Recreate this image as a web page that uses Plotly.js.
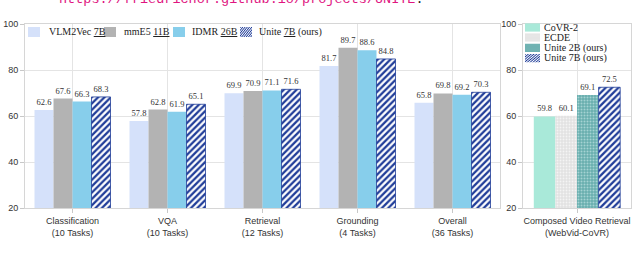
<!DOCTYPE html>
<html>
<head>
<meta charset="utf-8">
<script src="https://cdn.plot.ly/plotly-3.0.1.min.js"></script>
<style>html,body{margin:0;padding:0;background:#fff;}#chart{width:640px;height:254px;}</style>
</head>
<body>
<div id="chart"></div>
<script>
// ---- data ----
const categories = ['Classification<br>(10 Tasks)', 'VQA<br>(10 Tasks)', 'Retrieval<br>(12 Tasks)', 'Grounding<br>(4 Tasks)', 'Overall<br>(36 Tasks)'];
const vlm2vec = [62.6, 57.8, 69.9, 81.7, 65.8];
const mme5 = [67.6, 62.8, 70.9, 89.7, 69.8];
const idmr = [66.3, 61.9, 71.1, 88.6, 69.2];
const unite7b = [68.3, 65.1, 71.6, 84.8, 70.3];

const cvrCategory = ['Composed Video Retrieval<br>(WebVid-CoVR)'];
const covr2 = [59.8];
const ecde = [60.1];
const unite2bCvr = [69.1];
const unite7bCvr = [72.5];

const leftNames = ['VLM2Vec <u>7B</u>', 'mmE5 <u>11B</u>', 'IDMR <u>26B</u>', 'Unite <u>7B</u> (ours)'];
const rightNames = ['CoVR-2', 'ECDE', 'Unite 2B (ours)', 'Unite 7B (ours)'];
const yTicks = [20, 40, 60, 80, 100];

// ---- style ----
const NAVY = '#1f3c98';
const serif = 'Liberation Serif, Times New Roman, serif';
const sans = 'Liberation Sans, Arial, sans-serif';
const W = 640, H = 254, ML = 25, MR = 9, MT = 24, MB = 46;
const PW = W - ML - MR, PH = H - MT - MB;
const px = X => (X - ML) / PW;
const py = Y => (H - MB - Y) / PH;

const labelFont = {family: serif, size: 8.5, color: '#333'};

function barTrace(name, x, y, marker, xa, ya) {
  return {
    type: 'bar', name: name, x: x, y: y, xaxis: xa, yaxis: ya,
    marker: marker, text: y.map(v => v.toFixed(1)), textposition: 'outside',
    textfont: labelFont, cliponaxis: false, showlegend: false, hoverinfo: 'x+y'
  };
}
const hatch = {color: 'white', line: {color: NAVY, width: 0.8},
  pattern: {shape: '/', fgcolor: NAVY, bgcolor: 'white', size: 4.5, solidity: 0.5}};

const data = [
  barTrace(leftNames[0], categories, vlm2vec, {color: '#d5e1fa'}, 'x', 'y'),
  barTrace(leftNames[1], categories, mme5, {color: '#b3b3b3'}, 'x', 'y'),
  barTrace(leftNames[2], categories, idmr, {color: '#87ceeb'}, 'x', 'y'),
  barTrace(leftNames[3], categories, unite7b, hatch, 'x', 'y'),
  barTrace(rightNames[0], cvrCategory, covr2, {color: '#a9e9d9'}, 'x2', 'y2'),
  barTrace(rightNames[1], cvrCategory, ecde, {color: '#e4e4e4',
    pattern: {shape: '.', fgcolor: '#f4f4f4', bgcolor: '#e2e2e2', size: 3, solidity: 0.3}}, 'x2', 'y2'),
  barTrace(rightNames[2], cvrCategory, unite2bCvr, {color: '#6fb3b3',
    pattern: {shape: '.', fgcolor: '#a5d3d3', bgcolor: '#68aeae', size: 3, solidity: 0.35}}, 'x2', 'y2'),
  barTrace(rightNames[3], cvrCategory, unite7bCvr, hatch, 'x2', 'y2')
];

// ---- custom legends (swatch images + text) ----
function swatchURI(bg, kind, fg) {
  let defs = '', fill = bg;
  if (kind === 'hatch') {
    defs = '<defs><pattern id="p" width="4" height="4" patternUnits="userSpaceOnUse" patternTransform="rotate(45)"><rect width="4" height="4" fill="' + bg + '"/><rect width="2" height="4" fill="' + fg + '"/></pattern></defs>';
    fill = 'url(#p)';
  } else if (kind === 'dot') {
    defs = '<defs><pattern id="p" width="3" height="3" patternUnits="userSpaceOnUse"><rect width="3" height="3" fill="' + bg + '"/><circle cx="1.5" cy="1.5" r="0.7" fill="' + fg + '"/></pattern></defs>';
    fill = 'url(#p)';
  }
  const svg = '<svg xmlns="http://www.w3.org/2000/svg" width="30" height="20" viewBox="0 0 30 20">' + defs +
    '<rect x="0" y="0" width="30" height="20" fill="' + fill + '"/></svg>';
  return 'data:image/svg+xml;charset=utf-8,' + encodeURIComponent(svg);
}
const leftSw = [swatchURI('#d5e1fa'), swatchURI('#b3b3b3'), swatchURI('#87ceeb'), swatchURI('#ffffff', 'hatch', NAVY)];
const rightSw = [swatchURI('#a9e9d9'), swatchURI('#e4e4e4', 'dot', '#f4f4f4'), swatchURI('#68aeae', 'dot', '#a5d3d3'), swatchURI('#ffffff', 'hatch', NAVY)];

const leftSwX = [28, 104, 173, 240], leftTxtX = [48, 123, 191, 258];
const rightY = [27.5, 37.5, 47.8, 58.2];

const images = [], annotations = [];
leftSw.forEach((s, i) => images.push({source: s, xref: 'paper', yref: 'paper', x: px(leftSwX[i]), y: py(27),
  sizex: 12 / PW, sizey: 10 / PH, sizing: 'stretch', xanchor: 'left', yanchor: 'top', layer: 'above'}));
leftNames.forEach((t, i) => annotations.push({text: t, xref: 'paper', yref: 'paper', x: px(leftTxtX[i]), y: py(32),
  xanchor: 'left', yanchor: 'middle', align: 'left', showarrow: false, font: {family: serif, size: 10, color: '#222'}, borderpad: 0}));
rightSw.forEach((s, i) => images.push({source: s, xref: 'paper', yref: 'paper', x: px(525), y: py(rightY[i] - 4.3),
  sizex: 15 / PW, sizey: 8.6 / PH, sizing: 'stretch', xanchor: 'left', yanchor: 'top', layer: 'above'}));
rightNames.forEach((t, i) => annotations.push({text: t, xref: 'paper', yref: 'paper', x: px(543), y: py(rightY[i]),
  xanchor: 'left', yanchor: 'middle', align: 'left', showarrow: false, font: {family: serif, size: 10, color: '#222'}, borderpad: 0}));

// cut-off header text (partly above the top edge, as in the reference)
annotations.push({text: '<span style="color:#e0157f">https://friedrichor.github.io/projects/UNITE</span>.',
  xref: 'paper', yref: 'paper', x: px(241), y: py(8), xanchor: 'center', yanchor: 'bottom', showarrow: false,
  font: {family: 'Liberation Mono, Courier New, monospace', size: 13.5, color: '#222'}, borderpad: 0});

const axisCommon = {
  showgrid: true, gridcolor: '#e4e4e4', gridwidth: 1, showline: true, mirror: true, linecolor: '#d6d6d6', linewidth: 1,
  ticks: 'outside', ticklen: 4, tickcolor: '#c8c8c8', tickfont: {family: sans, size: 9, color: '#333'}, zeroline: false
};
const yCommon = Object.assign({}, axisCommon, {range: [20, 100], tickvals: yTicks, ticktext: yTicks.map(String)});

const layout = {
  width: W, height: H, margin: {l: ML, r: MR, t: MT, b: MB}, paper_bgcolor: 'white', plot_bgcolor: 'white',
  barmode: 'group', bargap: 0.2, bargroupgap: 0, showlegend: false,
  xaxis: Object.assign({}, axisCommon, {domain: [0, px(500)], anchor: 'y', type: 'category'}),
  yaxis: Object.assign({}, yCommon, {anchor: 'x'}),
  xaxis2: Object.assign({}, axisCommon, {domain: [px(523), 1], anchor: 'y2', type: 'category'}),
  yaxis2: Object.assign({}, yCommon, {anchor: 'x2'}),
  images: images, annotations: annotations
};

Plotly.newPlot('chart', data, layout, {staticPlot: true, displayModeBar: false});
</script>
</body>
</html>
